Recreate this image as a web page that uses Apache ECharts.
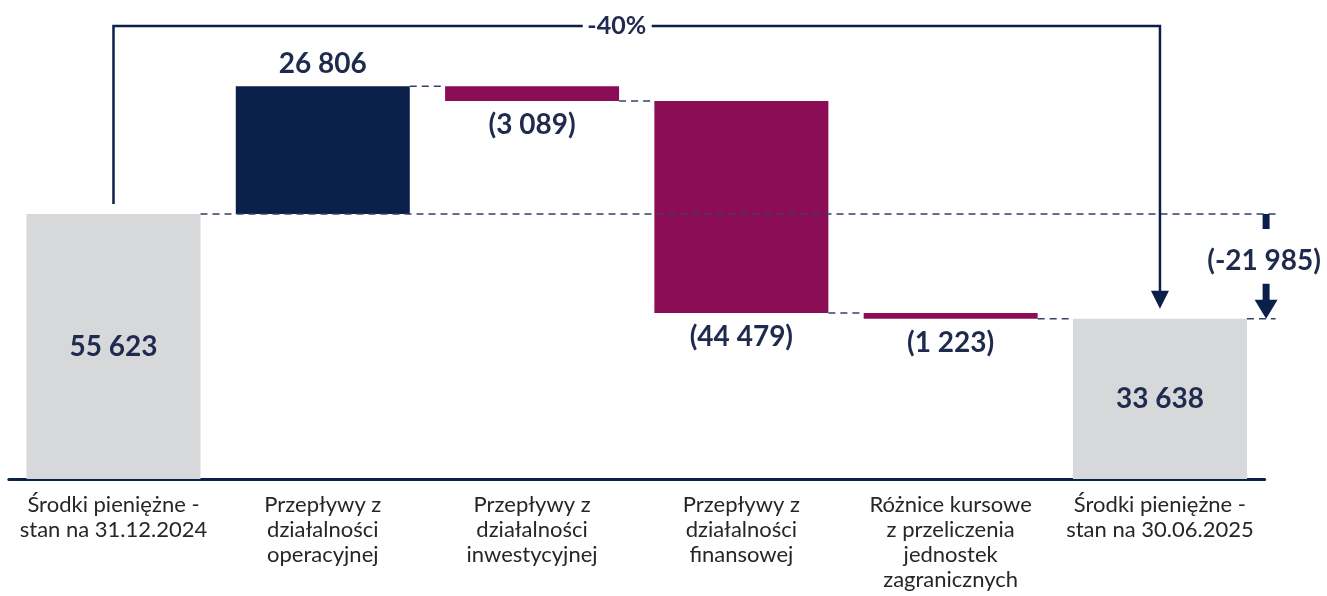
<!DOCTYPE html>
<html>
<head>
<meta charset="utf-8">
<script src="https://cdn.jsdelivr.net/npm/echarts@6/dist/echarts.min.js"></script>
<style>
  html, body { margin: 0; padding: 0; background: #fff; }
  #chart { width: 1327px; height: 596px; }
</style>
</head>
<body>
<div id="chart"></div>
<script>
const categories = [
    'Środki pieniężne -\nstan na 31.12.2024',
    'Przepływy z\ndziałalności\noperacyjnej',
    'Przepływy z\ndziałalności\ninwestycyjnej',
    'Przepływy z\ndziałalności\nfinansowej',
    'Różnice kursowe\nz przeliczenia\njednostek\nzagranicznych',
    'Środki pieniężne -\nstan na 30.06.2025'
];
const amounts = [55623, 26806, -3089, -44479, -1223, 33638];
const isTotal = [true, false, false, false, false, true];
const valueLabels = ['55 623', '26 806', '(3 089)', '(44 479)', '(1 223)', '33 638'];
const changeLabel = '(-21 985)';
const percentLabel = '-40%';

const NAVY = '#0a1f4a';
const MAROON = '#8a0d55';
const GREY = '#d7d8da';
const TEXT = '#1f2a4f';
const BAR_W = 174;

// running totals -> invisible base + visible bar height
var running = 0;
var bases = [], heights = [], levels = [];
amounts.forEach(function (v, i) {
    if (isTotal[i]) {
        bases.push(0);
        heights.push(v);
        running = v;
    } else {
        var next = running + v;
        bases.push(Math.min(running, next));
        heights.push(Math.abs(v));
        running = next;
    }
    levels.push(running);
});

var barData = heights.map(function (h, i) {
    var color = isTotal[i] ? GREY : (amounts[i] > 0 ? NAVY : MAROON);
    var pos = isTotal[i] ? 'inside' : (amounts[i] > 0 ? 'top' : 'bottom');
    return {
        value: h,
        itemStyle: { color: color },
        label: {
            show: true,
            position: pos,
            distance: amounts[i] > 0 && !isTotal[i] ? 8 : 10,
            formatter: valueLabels[i]
        }
    };
});

// dashed connectors: [from, level, to] (to = -1 means run out past the last bar)
var connectors = [];
for (var i = 0; i < 5; i++) {
    connectors.push([i, levels[i], i === 0 ? -1 : i + 1]);
}
connectors.push([5, levels[5], -1]);

var dom = document.getElementById('chart');
var myChart = echarts.init(dom);

var option = {
    animation: false,
    grid: { left: 8.85, right: 62.4, top: 2.6, bottom: 117, containLabel: false, outerBoundsMode: 'none' },
    xAxis: {
        type: 'category',
        data: categories,
        axisTick: { show: false },
        axisLine: { lineStyle: { color: NAVY, width: 3 } },
        axisLabel: {
            interval: 0,
            margin: 13,
            color: '#262626',
            fontFamily: 'Lato',
            fontSize: 22,
            lineHeight: 25,
            align: 'center'
        }
    },
    yAxis: {
        type: 'value',
        min: 0,
        max: 100000,
        show: false,
        splitLine: { show: false }
    },
    series: [
        {
            name: 'base',
            type: 'bar',
            stack: 'w',
            barWidth: BAR_W,
            silent: true,
            itemStyle: { color: 'transparent' },
            data: bases
        },
        {
            name: 'value',
            type: 'bar',
            stack: 'w',
            barWidth: BAR_W,
            label: {
                color: TEXT,
                fontFamily: 'Lato',
                fontWeight: 'bold',
                fontSize: 28
            },
            data: barData
        },
        {
            name: 'connectors',
            type: 'custom',
            z: 5,
            silent: true,
            renderItem: function (params, api) {
                var band = api.size([1, 0])[0];
                var half = BAR_W / 2;
                var from = api.value(0), lvl = api.value(1), to = api.value(2);
                var p = api.coord([from, lvl]);
                var x1 = p[0] + half;
                var x2 = to < 0 ? api.coord([5, lvl])[0] + band / 2 + 11 : api.coord([to, lvl])[0] - half;
                return {
                    type: 'line',
                    shape: { x1: x1, y1: p[1], x2: x2, y2: p[1] },
                    style: { stroke: '#34426a', lineWidth: 1.5, lineDash: [7, 5] }
                };
            },
            data: connectors
        },
        {
            name: 'annotation',
            type: 'custom',
            z: 6,
            silent: true,
            renderItem: function (params, api) {
                var band = api.size([1, 0])[0];
                var p0 = api.coord([api.value(0), api.value(1)]);
                var p5 = api.coord([api.value(2), api.value(3)]);
                var yTop = 26;
                var lx = (p0[0] + p5[0]) / 2 - 20;
                var rx = p5[0] + band / 2 + 1.5;
                var stroke = { stroke: NAVY, lineWidth: 2.5, fill: null };
                return {
                    type: 'group',
                    children: [
                        { type: 'polyline', shape: { points: [[p0[0], p0[1] - 10], [p0[0], yTop], [lx - 34, yTop]] }, style: stroke },
                        { type: 'polyline', shape: { points: [[lx + 35, yTop], [p5[0], yTop], [p5[0], p5[1] - 26]] }, style: stroke },
                        { type: 'polygon', shape: { points: [[p5[0] - 9, p5[1] - 28], [p5[0] + 9, p5[1] - 28], [p5[0], p5[1] - 10]] }, style: { fill: NAVY } },
                        { type: 'text', style: { text: percentLabel, x: lx, y: yTop, align: 'center', verticalAlign: 'middle', fill: TEXT, fontFamily: 'Lato', fontWeight: 'bold', fontSize: 25 } },
                        { type: 'rect', shape: { x: rx - 3.5, y: p0[1], width: 7, height: 15 }, style: { fill: NAVY } },
                        { type: 'text', style: { text: changeLabel, x: rx - 2, y: (p0[1] + p5[1]) / 2 - 5, align: 'center', verticalAlign: 'middle', fill: TEXT, fontFamily: 'Lato', fontWeight: 'bold', fontSize: 28 } },
                        { type: 'rect', shape: { x: rx - 3.5, y: p5[1] - 35, width: 7, height: 18 }, style: { fill: NAVY } },
                        { type: 'polygon', shape: { points: [[rx - 11.5, p5[1] - 19], [rx + 11.5, p5[1] - 19], [rx, p5[1]]] }, style: { fill: NAVY } }
                    ]
                };
            },
            data: [[0, levels[0], 5, levels[5]]]
        }
    ]
};
myChart.setOption(option);
</script>
</body>
</html>
